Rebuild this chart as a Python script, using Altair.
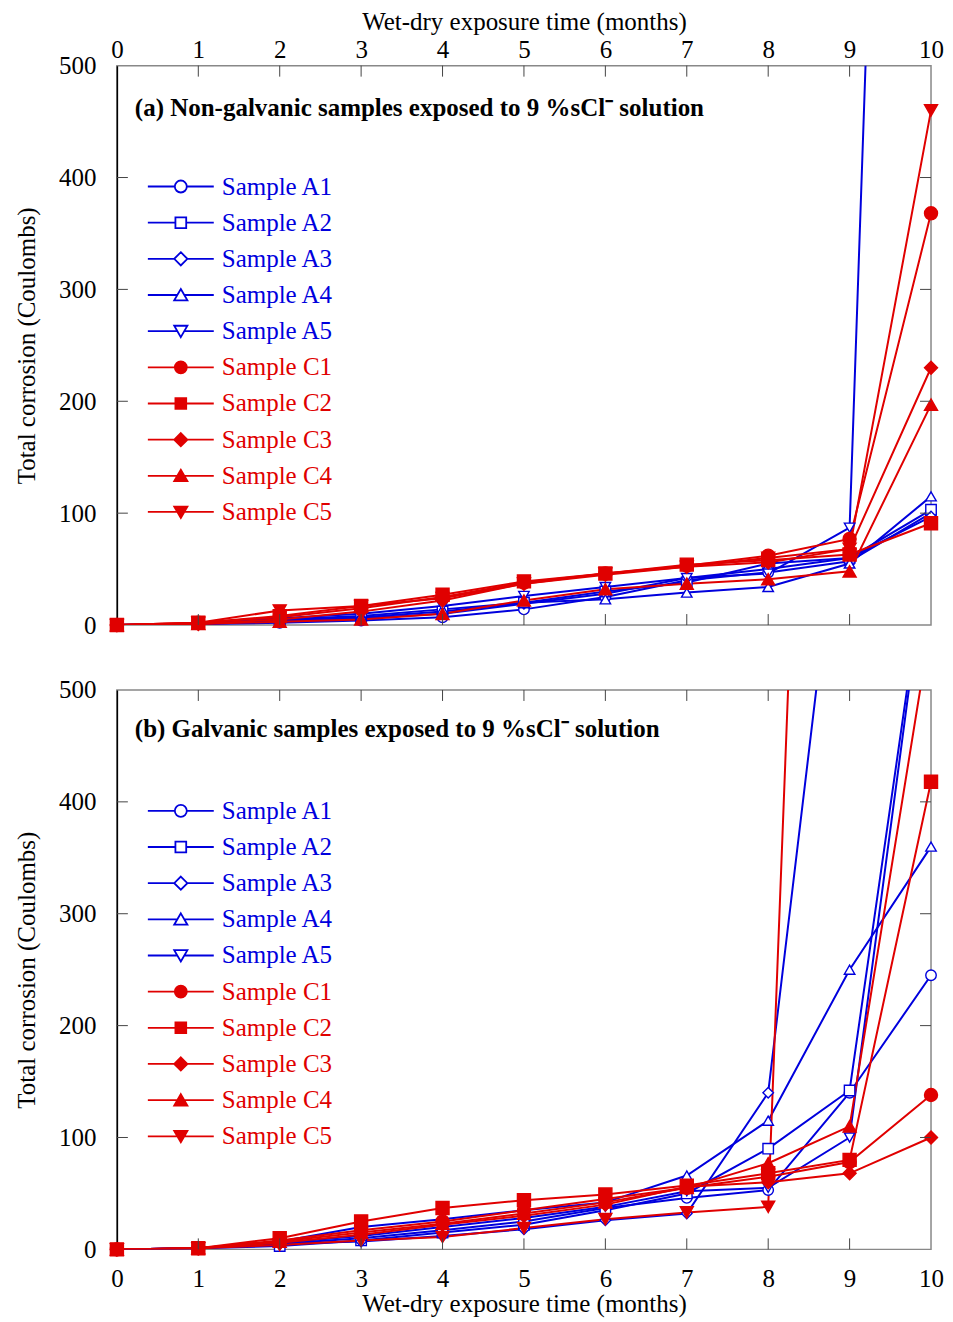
import altair as alt
import pandas as pd

months = list(range(11))
series = ["Sample A1", "Sample A2", "Sample A3", "Sample A4", "Sample A5",
          "Sample C1", "Sample C2", "Sample C3", "Sample C4", "Sample C5"]
series_A = series[:5]
series_C = series[5:]

# (a) Non-galvanic samples
a_A1 = [0, 1, 2, 4, 7, 14, 25, 40, 47, 57, 100]
a_A2 = [0, 1, 4, 7, 12, 20, 30, 38, 55, 60, 103]
a_A3 = [0, 1, 3, 6, 10, 19, 28, 42, 50, 60, 97]
a_A4 = [0, 1, 5, 8, 14, 20, 23, 29, 34, 55, 115]
a_A5 = [0, 1, 6, 10, 17, 26, 34, 42, 46, 87, 2200]
a_C1 = [0, 2, 7, 15, 25, 38, 46, 53, 62, 77, 368]
a_C2 = [0, 2, 8, 17, 27, 39, 46, 54, 58, 63, 91]
a_C3 = [0, 1, 5, 12, 22, 37, 45, 52, 56, 68, 230]
a_C4 = [0, 1, 3, 5, 10, 22, 32, 37, 41, 48, 197]
a_C5 = [0, 2, 13, 17, 24, 37, 46, 52, 60, 68, 460]

# (b) Galvanic samples
b_A1 = [0, 1, 5, 10, 17, 25, 37, 46, 53, 140, 245]
b_A2 = [0, 1, 3, 8, 15, 22, 35, 50, 90, 142, 650]
b_A3 = [0, 1, 5, 7, 12, 18, 26, 32, 140, 750, None]
b_A4 = [0, 1, 7, 20, 27, 35, 42, 66, 115, 250, 360]
b_A5 = [0, 1, 6, 12, 20, 28, 38, 52, 55, 100, 650]
b_C1 = [0, 1, 8, 17, 25, 35, 45, 55, 65, 78, 138]
b_C2 = [0, 1, 10, 25, 37, 44, 49, 57, 68, 80, 418]
b_C3 = [0, 1, 6, 13, 22, 30, 40, 56, 60, 68, 100]
b_C4 = [0, 1, 7, 15, 23, 32, 42, 55, 77, 110, 560]
b_C5 = [0, 1, 4, 8, 11, 19, 27, 33, 38, 1930, None]

panel_a = [a_A1, a_A2, a_A3, a_A4, a_A5, a_C1, a_C2, a_C3, a_C4, a_C5]
panel_b = [b_A1, b_A2, b_A3, b_A4, b_A5, b_C1, b_C2, b_C3, b_C4, b_C5]

titles = ["(a) Non-galvanic samples exposed to 9 %sCl\u207b solution",
          "(b) Galvanic samples exposed to 9 %sCl\u207b solution"]
x_title = "Wet-dry exposure time (months)"
y_title = "Total corrosion (Coulombs)"
y_ticks = [0, 100, 200, 300, 400, 500]
x_inner_ticks = [1, 2, 3, 4, 5, 6, 7, 8, 9]
y_inner_ticks = [100, 200, 300, 400]

FONT = "Liberation Serif"
FS = 25
BLUE = "#0000dd"
RED = "#e00000"
colors = [BLUE] * 5 + [RED] * 5
fills = ["white"] * 5 + [RED] * 5
sizes = [110] * 5 + [170] * 5
plot_shapes = ["circle", "square", "diamond", "triangle-up", "triangle-down"]


def legend_path(shape, brk):
    return f"M-5.5,0L-{brk},0M{brk},0L5.5,0" + shape


legend_shapes = [
    legend_path("M-1,0A1,1,0,1,1,1,0A1,1,0,1,1,-1,0Z", 1),
    legend_path("M-0.9,-0.9L0.9,-0.9L0.9,0.9L-0.9,0.9Z", 0.9),
    legend_path("M0,-1.1L1.1,0L0,1.1L-1.1,0Z", 1.1),
    legend_path("M0,-1L1.1,0.9L-1.1,0.9Z", 0.58),
    legend_path("M0,1L1.1,-0.9L-1.1,-0.9Z", 0.58),
]

W, H = 815, 560
LEG_X = 51.5
LEG_Y = 108.5
ROW = 36.2

axis_font = dict(labelFont=FONT, labelFontSize=FS, labelColor="black",
                 titleFont=FONT, titleFontSize=FS, titleFontWeight="normal",
                 titleColor="black")


def make_panel(values, title, top):
    rows = []
    for s, vals in zip(series, values):
        for m, v in zip(months, vals):
            if v is not None:
                rows.append({"month": m, "value": v, "series": s})
    df = pd.DataFrame(rows)

    xscale = alt.Scale(domain=[0, 10], nice=False, zero=False)
    yscale = alt.Scale(domain=[0, 500], nice=False)
    cscale = alt.Scale(domain=series, range=colors)

    if top:
        xaxis = alt.Axis(orient="top", values=months, title=x_title, ticks=False,
                         domain=False, grid=False, labelPadding=3.3, titlePadding=2.6,
                         labelFlush=False, **axis_font)
    else:
        xaxis = alt.Axis(orient="bottom", values=months, title=x_title, ticks=False,
                         domain=False, grid=False, labelPadding=17.5, titlePadding=0,
                         labelFlush=False, **axis_font)
    yaxis = alt.Axis(values=y_ticks, title=y_title, ticks=False, domain=True,
                     domainColor="black", domainWidth=1.5, grid=False,
                     labelPadding=21, titlePadding=19, labelFlush=False, **axis_font)

    base = alt.Chart(df)

    def X(field="month:Q"):
        return alt.X(field, scale=xscale, axis=xaxis, title=x_title)

    def Y(field="value:Q"):
        return alt.Y(field, scale=yscale, axis=yaxis, title=y_title)

    lines = base.mark_line(clip=True, strokeWidth=2).encode(
        x=X(), y=Y(),
        color=alt.Color("series:N", scale=cscale, legend=None),
    )

    point_layers = []
    for i, s in enumerate(series):
        point_layers.append(
            base.transform_filter(alt.datum.series == s)
            .transform_filter(alt.datum.value <= 500)
            .mark_point(
                shape=plot_shapes[i % 5], size=sizes[i], fill=fills[i],
                stroke=colors[i], strokeWidth=1.4, opacity=1, fillOpacity=1,
            ).encode(x=X(), y=Y())
        )

    legend_layers = []
    for gi, (names, col, fillc) in enumerate(
            [(series_A, BLUE, "white"), (series_C, RED, RED)]):
        leg = alt.Legend(
            orient="none", legendX=LEG_X, legendY=LEG_Y + gi * 5 * ROW,
            title=None, padding=0,
            symbolSize=144, symbolStrokeWidth=1.8, symbolOpacity=1,
            labelFont=FONT, labelFontSize=FS, labelOffset=28.5, rowPadding=10.2,
            labelLimit=0, labelColor=col,
        )
        legend_layers.append(
            base.transform_filter("datum.month < 0").mark_point(
                opacity=1, strokeWidth=1.8, filled=True,
            ).encode(
                x=X(), y=Y(),
                stroke=alt.Stroke("series:N",
                                  scale=alt.Scale(domain=names, range=[col] * 5),
                                  legend=leg),
                fill=alt.Fill("series:N",
                              scale=alt.Scale(domain=names, range=[fillc] * 5),
                              legend=leg),
                shape=alt.Shape("series:N",
                                scale=alt.Scale(domain=names, range=legend_shapes),
                                legend=leg),
            )
        )

    tx = alt.Chart(pd.DataFrame({"t": x_inner_ticks}))
    ty = alt.Chart(pd.DataFrame({"t": y_inner_ticks}))
    tick_color = "#444444"
    ticks_top = tx.mark_rule(color=tick_color, strokeWidth=1).encode(
        x=X("t:Q"), y=alt.value(0), y2=alt.value(11))
    ticks_bottom = tx.mark_rule(color=tick_color, strokeWidth=1).encode(
        x=X("t:Q"), y=alt.value(H - 11), y2=alt.value(H))
    ticks_left = ty.mark_rule(color=tick_color, strokeWidth=1).encode(
        y=Y("t:Q"), x=alt.value(0), x2=alt.value(11))
    ticks_right = ty.mark_rule(color=tick_color, strokeWidth=1).encode(
        y=Y("t:Q"), x=alt.value(W - 11), x2=alt.value(W))

    title_text = alt.Chart(pd.DataFrame({"t": [title]})).mark_text(
        align="left", baseline="middle", font=FONT, fontSize=FS,
        fontWeight="bold", color="black",
    ).encode(text="t:N", x=alt.value(18), y=alt.value(42 if top else 39))

    return alt.layer(
        lines, *point_layers, *legend_layers,
        ticks_top, ticks_bottom, ticks_left, ticks_right, title_text,
    ).resolve_scale(
        shape="independent", stroke="independent", fill="independent"
    ).properties(width=W, height=H)


top_chart = make_panel(panel_a, titles[0], True)
bottom_chart = make_panel(panel_b, titles[1], False)

chart = alt.vconcat(top_chart, bottom_chart, spacing=38).properties(
    padding={"top": 0, "bottom": 0, "left": 5, "right": 0}
).configure(
    font=FONT, background="white"
).configure_view(
    stroke="#888888", strokeWidth=1.5
).configure_axis(**axis_font)

chart.save("out.html", embed_options={"renderer": "svg", "actions": False})
